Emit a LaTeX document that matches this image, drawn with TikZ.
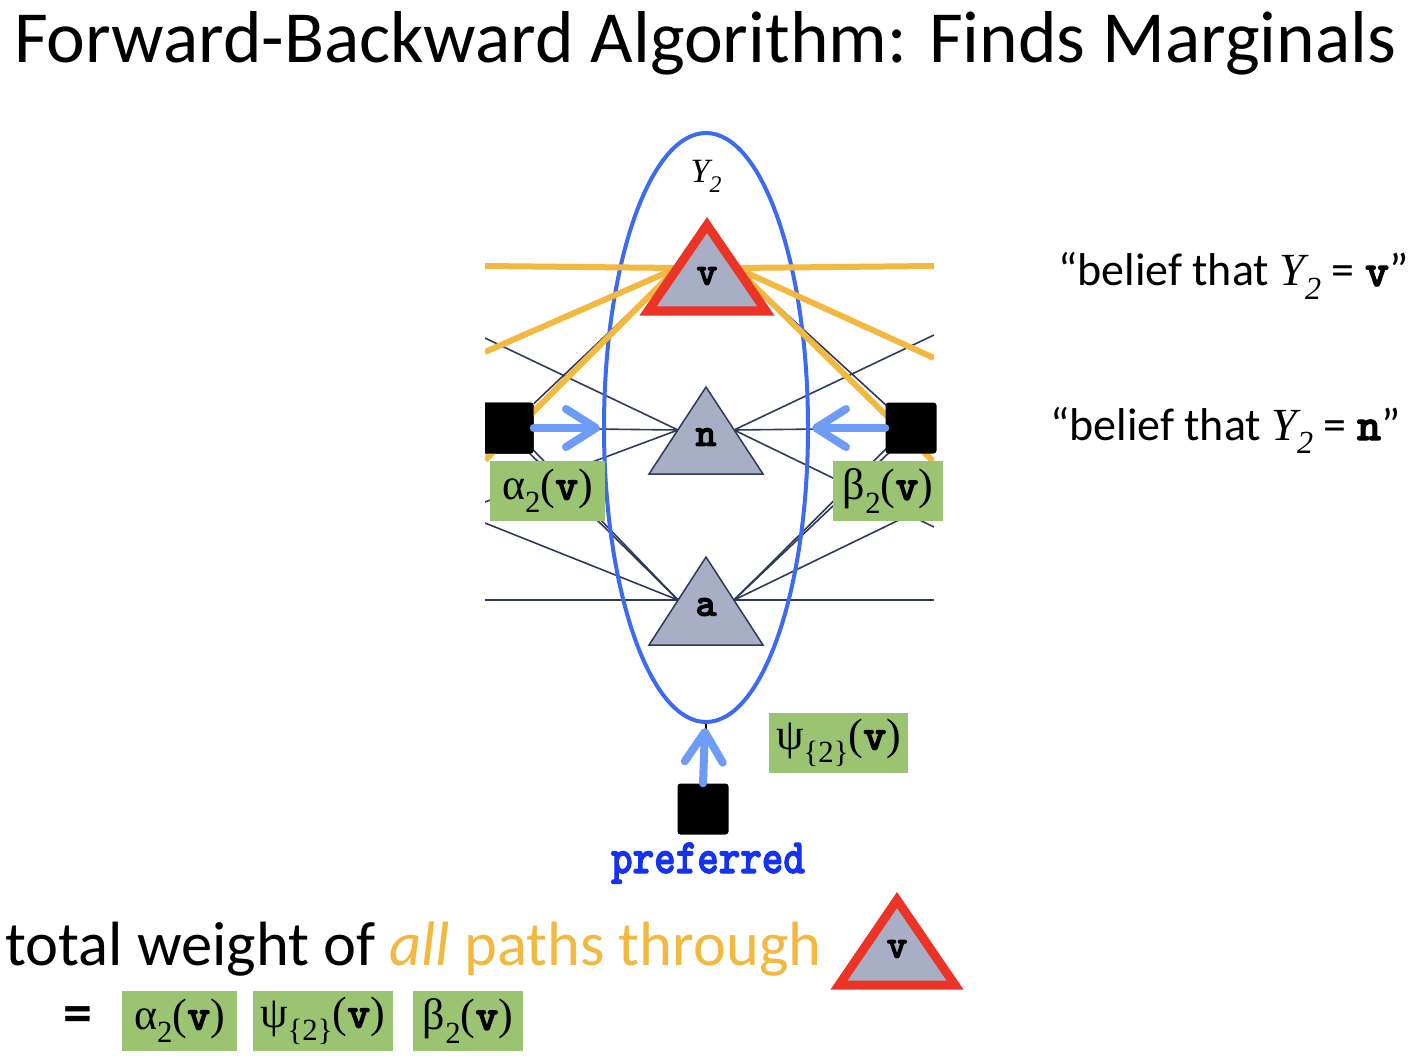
\documentclass[tikz,border=0pt]{standalone}
\usepackage{fontspec}
\usepackage{graphicx}
\setmainfont{Carlito}
\newfontfamily\serifit{Liberation Serif}
\newfontfamily\codefont{lmmonolt10-bold.otf}[FakeBold=2.5]
\usetikzlibrary{arrows.meta,shapes.geometric}

\definecolor{ellblue}{HTML}{3D6BF0}
\definecolor{msgblue}{HTML}{6E9BF5}
\definecolor{gold}{HTML}{F2B840}
\definecolor{hotred}{HTML}{EB3426}
\definecolor{trigray}{HTML}{A8AFC4}
\definecolor{edgec}{HTML}{2E3A5C}
\definecolor{boxgreen}{HTML}{9BC472}
\definecolor{prefblue}{HTML}{1432F0}

\newcommand{\val}[1]{{\codefont #1}}
\newcommand{\tall}[1]{\scalebox{1}[1.2]{#1}}
\newcommand{\lowsub}[1]{\raisebox{-0.3em}{\scalebox{0.7}{#1}}}
\newcommand{\fsz}[1]{\fontsize{#1}{#1}\selectfont}

\begin{document}
\begin{tikzpicture}[
        x=1pt, y=-1pt,
        tri/.style={fill=trigray, draw=edgec, line width=1.5pt},
        hot/.style={fill=trigray, draw=hotred, line width=9pt},
        lab/.style={inner sep=0pt, font=\fsz{40}\codefont},
        edge/.style={draw=edgec, line width=1.6pt},
        path/.style={draw=gold, line width=6pt},
        fac/.style={fill=black, minimum size=51pt, inner sep=0pt, rounded corners=3pt},
        msg/.style={draw=msgblue, line width=8pt, line cap=round,
            -{Straight Barb[length=30pt,width=38pt,round]}},
        box/.style={fill=boxgreen, minimum height=60pt, inner sep=0pt, font=\fsz{44}\serifit},
        note/.style={inner sep=0pt, font=\fsz{46}}
    ]
    \useasboundingbox (0,0) rectangle (1420,1064);

    \node[anchor=base, inner sep=0pt, font=\fsz{73.5}] (title) at (705,63)
        {Forward-Backward Algorithm: Finds Marginals};

    % attachment points on the triangles
    \coordinate (vL) at (677,268);
    \coordinate (vR) at (736,268);
    \coordinate (nL) at (678,430);
    \coordinate (nR) at (734,430);
    \coordinate (aL) at (678,600);
    \coordinate (aR) at (734,600);

    \begin{scope}
        \clip (485,0) rectangle (934,1064);
        \node[fac] (fL) at (508,428) {};
        % edges into the left column
        \draw[edge] (vL) -- (fL);
        \draw[edge] (nL) -- (485,338);
        \draw[edge] (nL) -- (fL);
        \draw[edge] (nL) -- (485,502);
        \draw[edge] (aL) -- (485,600);
        \draw[edge] (aL) -- (485,523);
        \draw[edge] (aL) -- ([xshift=-4pt]fL.center);
        \draw[edge] (aL) -- ([xshift=4pt]fL.center);
        % edges into the right column
        \draw[edge] (vR) -- (911,428);
        \draw[edge] (nR) -- (934,335);
        \draw[edge] (nR) -- (911,428);
        \draw[edge] (nR) -- (934,527);
        \draw[edge] (aR) -- (934,600);
        \draw[edge] (aR) -- (934,503);
        \draw[edge] (aR) -- (907,428);
        \draw[edge] (aR) -- (915,428);
    \end{scope}

    \node[draw=ellblue, line width=4pt, ellipse, minimum width=204pt,
        minimum height=589pt, inner sep=0pt] (Y2) at (706,427.5) {};
    \node[inner sep=0pt, font=\fsz{34}\serifit\itshape] (Y2lab) at (706,176)
        {Y\lowsub{2}};

    % paths through v
    \begin{scope}
        \clip (485,0) rectangle (934,1064);
        \draw[path] (vL) -- (485,266);
        \draw[path] (vL) -- (485,352);
        \draw[path] (vL) -- (485,460);
        \draw[path] (vR) -- (934,266);
        \draw[path] (vR) -- (934,358);
        \draw[path] (vR) -- (934,462);
        \node[fac] (fL2) at (508,428) {};
    \end{scope}
    \node[fac] (fR) at (911,428) {};
    \node[fac] (fB) at (703,809) {};

    \filldraw[hot] (707,225) -- (766,311) -- (648,311) -- cycle;
    \node[lab] (v) at (707,276) {v};
    \filldraw[tri] (706,387) -- (763,474) -- (649,474) -- cycle;
    \node[lab] (n) at (706,437) {n};
    \filldraw[tri] (706,557) -- (763,645) -- (649,645) -- cycle;
    \node[lab] (a) at (706,607) {a};

    \draw[msg] (fL.east) -- (600,428);
    \draw[msg] (fR.west) -- (812,428);
    \draw[black, line width=2pt] (Y2.south) -- ++(0,6);
    \draw[msg] (fB.north) -- (705,728);

    \node[box, minimum width=115pt] (alpha) at (547.5,491) {α\lowsub{2}(\val{v})};
    \node[box, minimum width=110pt] (beta) at (888,491) {β\lowsub{2}(\val{v})};
    \node[box, minimum width=139pt] (psi) at (838.5,743) {ψ\lowsub{\{2\}}(\val{v})};

    \node[anchor=base, inner sep=0pt, font=\fsz{41}\codefont, text=prefblue]
        (pref) at (708,873) {\tall{preferred}};

    \node[note, anchor=base west] (bv) at (1058,286)
        {“belief that {\serifit\itshape Y\lowsub{2}} = \val{v}”};
    \node[note, anchor=base west] (bn) at (1050,440)
        {“belief that {\serifit\itshape Y\lowsub{2}} = \val{n}”};

    % bottom line
    \node[anchor=base west, inner sep=0pt, font=\fsz{62.5}] (total) at (5,965)
        {total weight of {\color{gold}\itshape all} {\color{gold}paths through}};
    \filldraw[hot] (897,900) -- (955,985) -- (839,985) -- cycle;
    \node[lab] (v2) at (897,949) {v};
    \node[inner sep=0pt, font=\fsz{58}\bfseries] (eq) at (78,1020) {=};
    \node[box, minimum width=115pt] (alpha2) at (179.5,1021) {α\lowsub{2}(\val{v})};
    \node[box, minimum width=140pt] (psi2) at (322.5,1021) {ψ\lowsub{\{2\}}(\val{v})};
    \node[box, minimum width=110pt] (beta2) at (468,1021) {β\lowsub{2}(\val{v})};
\end{tikzpicture}
\end{document}
